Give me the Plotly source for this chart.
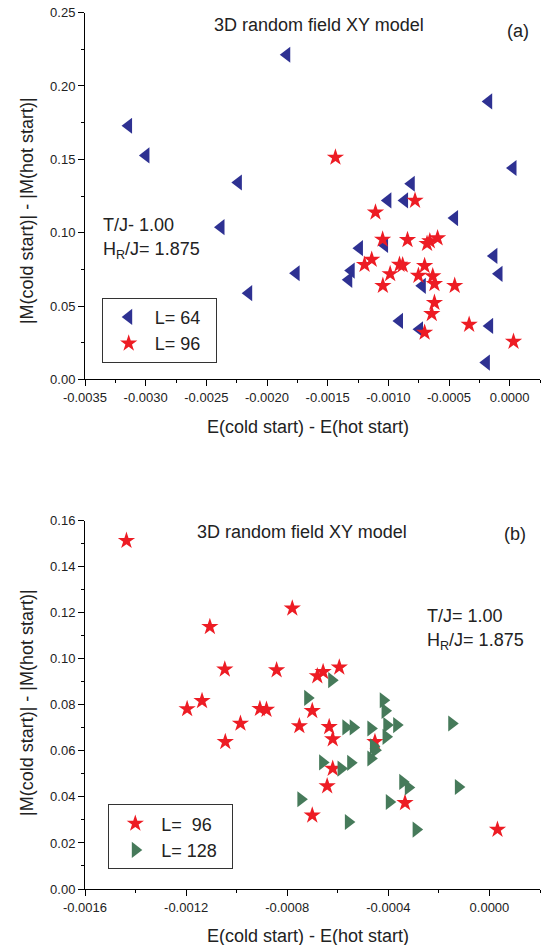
import plotly.graph_objects as go

# ---------------- data ----------------
# panel (a): L = 64
a64_x = [-0.001837, -0.003141, -0.002998, -0.002236, -0.000173, 0.0000275, -0.000811,
         -0.001004, -0.000866, -0.000454, -0.002379, -0.001760, -0.002151, -0.001238,
         -0.001031, -0.000130, -0.000088, -0.001306, -0.001326, -0.000720, -0.000908,
         -0.000743, -0.000165, -0.000192]
a64_y = [0.2213, 0.1729, 0.1527, 0.1342, 0.1895, 0.1441, 0.1334,
         0.1220, 0.1220, 0.1100, 0.1038, 0.0724, 0.0588, 0.0895,
         0.0917, 0.0842, 0.0720, 0.0742, 0.0679, 0.0638, 0.0399,
         0.0342, 0.0365, 0.0115]

# L = 96 (same set shown in both panels)
l96_x = [-0.001436, -0.000780, -0.001106, -0.001047, -0.000842, -0.001137, -0.001196,
         -0.000908, -0.000882, -0.000985, -0.001045, -0.000752, -0.000681, -0.000658,
         -0.000594, -0.000701, -0.000634, -0.000620, -0.000453, -0.000620, -0.000642,
         -0.000701, -0.000334, 0.0000317]
l96_y = [0.1513, 0.1219, 0.1139, 0.0954, 0.0951, 0.0817, 0.0782,
         0.0783, 0.0779, 0.0719, 0.0639, 0.0708, 0.0925, 0.0943,
         0.0963, 0.0774, 0.0704, 0.0651, 0.0639, 0.0523, 0.0447,
         0.0320, 0.0374, 0.0258]

# panel (b): L = 128
b128_x = [-0.000624, -0.000719, -0.000420, -0.000413, -0.000568, -0.000539, -0.000469,
          -0.000406, -0.000367, -0.000149, -0.000409, -0.000459, -0.000453, -0.000469,
          -0.000660, -0.000549, -0.000587, -0.000343, -0.000321, -0.000123, -0.000746,
          -0.000396, -0.000558, -0.000290]
b128_y = [0.0907, 0.0830, 0.0820, 0.0774, 0.0702, 0.0702, 0.0697,
          0.0712, 0.0712, 0.0719, 0.0661, 0.0620, 0.0603, 0.0567,
          0.0550, 0.0548, 0.0523, 0.0465, 0.0441, 0.0443, 0.0390,
          0.0378, 0.0291, 0.0258]

# tick labels
a_xticks = [-0.0035, -0.0030, -0.0025, -0.0020, -0.0015, -0.0010, -0.0005, 0.0]
a_xtext = ["-0.0035", "-0.0030", "-0.0025", "-0.0020", "-0.0015", "-0.0010", "-0.0005", "0.0000"]
a_yticks = [0.0, 0.05, 0.10, 0.15, 0.20, 0.25]
a_ytext = ["0.00", "0.05", "0.10", "0.15", "0.20", "0.25"]
b_xticks = [-0.0016, -0.0012, -0.0008, -0.0004, 0.0]
b_xtext = ["-0.0016", "-0.0012", "-0.0008", "-0.0004", "0.0000"]
b_yticks = [0.0, 0.02, 0.04, 0.06, 0.08, 0.10, 0.12, 0.14, 0.16]
b_ytext = ["0.00", "0.02", "0.04", "0.06", "0.08", "0.10", "0.12", "0.14", "0.16"]

NAVY = "#2E3192"
RED = "#ED1C24"
GREEN = "#467A5A"
TXT = "#222222"
FONT = "Liberation Sans, Arial, sans-serif"
NB = "\u00a0"

fig = go.Figure()
fig.add_trace(go.Scatter(x=a64_x, y=a64_y, mode="markers", name="L= 64" + NB * 2,
                         marker=dict(symbol="triangle-left", size=14, color=NAVY),
                         xaxis="x", yaxis="y", legend="legend"))
fig.add_trace(go.Scatter(x=l96_x, y=l96_y, mode="markers", name="L= 96" + NB * 2,
                         marker=dict(symbol="star", size=13, color=RED),
                         xaxis="x", yaxis="y", legend="legend"))
fig.add_trace(go.Scatter(x=l96_x, y=l96_y, mode="markers", name="L=" + NB * 2 + "96" + NB * 2,
                         marker=dict(symbol="star", size=13, color=RED),
                         xaxis="x2", yaxis="y2", legend="legend2"))
fig.add_trace(go.Scatter(x=b128_x, y=b128_y, mode="markers", name="L= 128" + NB * 2,
                         marker=dict(symbol="triangle-right", size=14, color=GREEN),
                         xaxis="x2", yaxis="y2", legend="legend2"))

tickfont = dict(family=FONT, size=13, color=TXT)
common = dict(showgrid=False, zeroline=False, showline=True, linecolor="black", linewidth=1,
              ticks="outside", ticklen=6, tickwidth=1, tickcolor="black", tickfont=tickfont,
              tickmode="array")

fig.update_layout(
    width=542, height=945,
    margin=dict(l=85, r=2, t=12, b=56),
    paper_bgcolor="white", plot_bgcolor="white",
    font=dict(family=FONT, color=TXT),
    xaxis=dict(domain=[0, 1], range=[-0.0035, 0.00025], anchor="y",
               tickvals=a_xticks, ticktext=a_xtext,
               minor=dict(tickmode="linear", tick0=0, dtick=0.00025, ticks="outside",
                          ticklen=3, tickcolor="black"), **common),
    yaxis=dict(domain=[0.581, 0.9993], range=[0, 0.25], anchor="x",
               tickvals=a_yticks, ticktext=a_ytext,
               minor=dict(tickmode="linear", tick0=0, dtick=0.025, ticks="outside",
                          ticklen=3, tickcolor="black"), **common),
    xaxis2=dict(domain=[0, 1], range=[-0.0016, 0.0002], anchor="y2",
                tickvals=b_xticks, ticktext=b_xtext,
                minor=dict(tickmode="linear", tick0=0, dtick=0.0002, ticks="outside",
                           ticklen=3, tickcolor="black"), **common),
    yaxis2=dict(domain=[0, 0.42], range=[0, 0.16], anchor="x2",
                tickvals=b_yticks, ticktext=b_ytext,
                minor=dict(tickmode="linear", tick0=0, dtick=0.01, ticks="outside",
                           ticklen=3, tickcolor="black"), **common),
    legend=dict(x=0.0367, y=0.6742, xanchor="left", yanchor="top",
                bordercolor="#333333", borderwidth=1, bgcolor="white", itemwidth=42,
                font=dict(family=FONT, size=18, color=TXT), itemsizing="trace"),
    legend2=dict(x=0.0512, y=0.0966, xanchor="left", yanchor="top",
                 bordercolor="#333333", borderwidth=1, bgcolor="white", itemwidth=42,
                 font=dict(family=FONT, size=18, color=TXT), itemsizing="trace"),
    showlegend=True,
)

ann_font = dict(family=FONT, size=18, color=TXT)
anns = [
    # panel (a)
    dict(text="3D random field XY model", xref="x domain", yref="y domain", x=0.514, y=0.966,
         xanchor="center", yanchor="middle"),
    dict(text="(a)", xref="x domain", yref="y domain", x=0.952, y=0.951,
         xanchor="center", yanchor="middle"),
    dict(text="T/J- 1.00", xref="x domain", yref="y domain", x=0.0345, y=0.421,
         xanchor="left", yanchor="middle"),
    dict(text="H<sub>R</sub>/J= 1.875", xref="x domain", yref="y domain", x=0.0345, y=0.352,
         xanchor="left", yanchor="middle"),
    dict(text="E(cold start) - E(hot start)", xref="x domain", yref="paper", x=0.491,
         y=(889 - 427) / 877, xanchor="center", yanchor="middle"),
    dict(text="|M(cold start)| - |M(hot start)|", xref="paper", yref="y domain", x=(27 - 85) / 455,
         y=0.459, xanchor="center", yanchor="middle", textangle=-90),
    # panel (b)
    dict(text="3D random field XY model", xref="x2 domain", yref="y2 domain", x=0.478, y=0.970,
         xanchor="center", yanchor="middle"),
    dict(text="(b)", xref="x2 domain", yref="y2 domain", x=0.946, y=0.964,
         xanchor="center", yanchor="middle"),
    dict(text="T/J= 1.00", xref="x2 domain", yref="y2 domain", x=0.747, y=0.742,
         xanchor="left", yanchor="middle"),
    dict(text="H<sub>R</sub>/J= 1.875", xref="x2 domain", yref="y2 domain", x=0.747, y=0.672,
         xanchor="left", yanchor="middle"),
    dict(text="E(cold start) - E(hot start)", xref="x2 domain", yref="paper", x=0.491,
         y=(889 - 936) / 877, xanchor="center", yanchor="middle"),
    dict(text="|M(cold start)| - |M(hot start)|", xref="paper", yref="y2 domain", x=(27 - 85) / 455,
         y=0.505, xanchor="center", yanchor="middle", textangle=-90),
]
for a in anns:
    a.setdefault("showarrow", False)
    a["font"] = ann_font
    fig.add_annotation(**a)

fig.write_html("out.html", config={"displayModeBar": False})

# remove the default page margin so the figure sits at the window's top-left corner
with open("out.html", "r", encoding="utf-8") as f:
    html = f.read()
html = html.replace("<body>", '<body style="margin:0;padding:0;overflow:hidden">', 1)
with open("out.html", "w", encoding="utf-8") as f:
    f.write(html)
